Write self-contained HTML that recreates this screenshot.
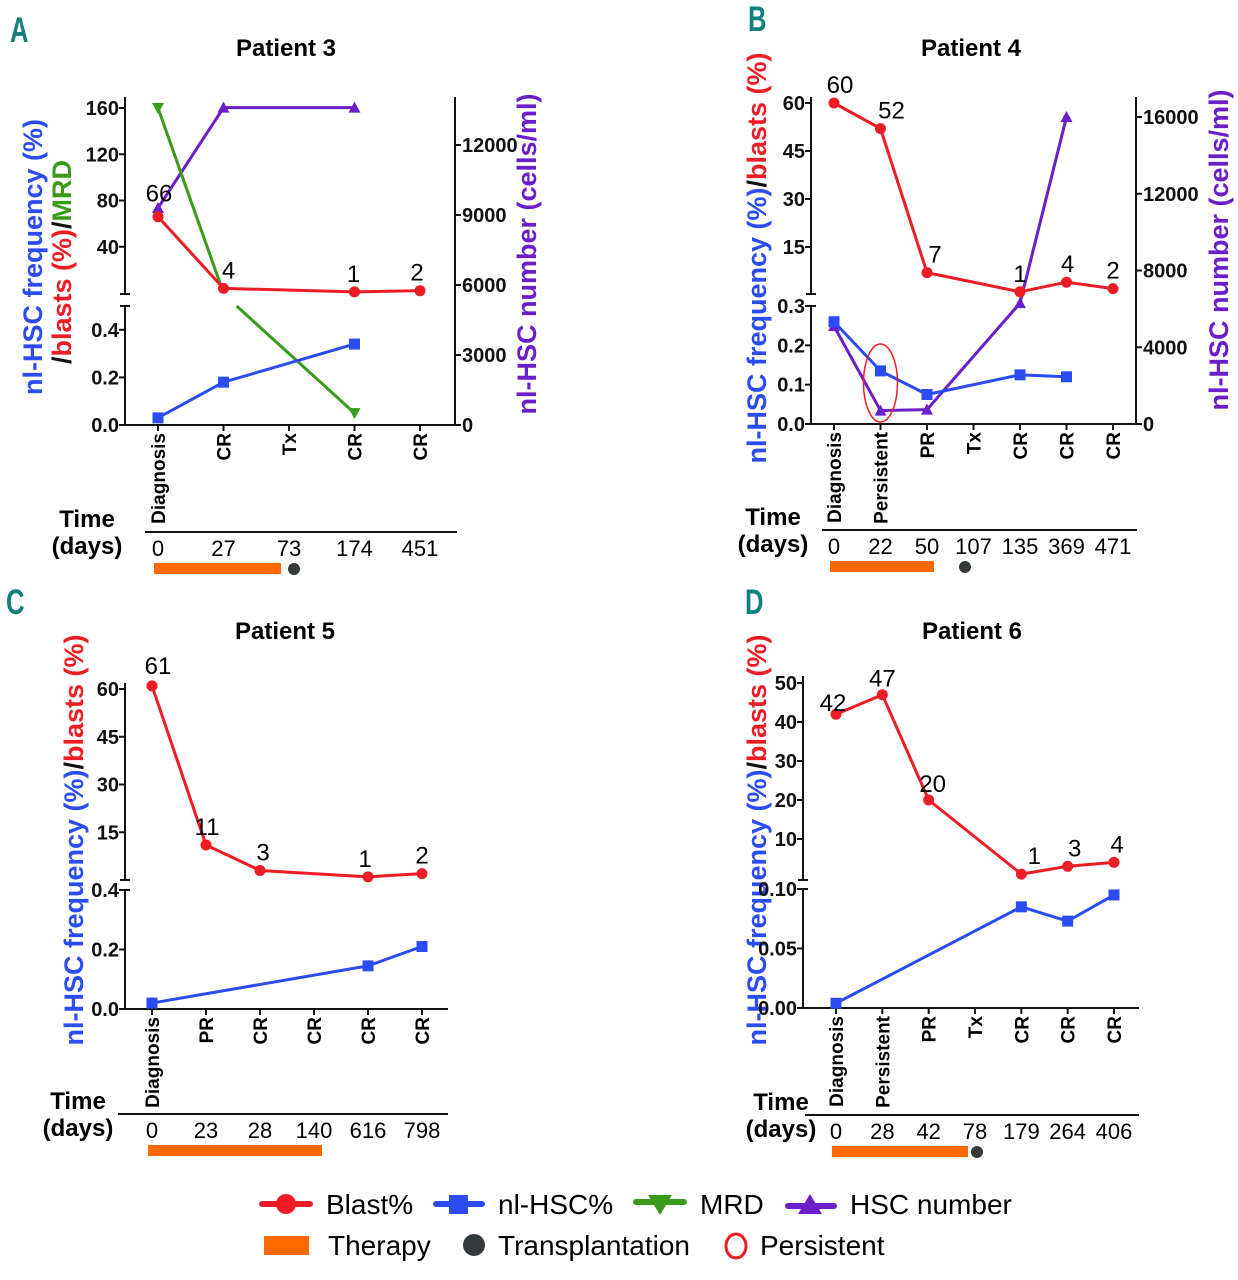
<!DOCTYPE html>
<html><head><meta charset="utf-8">
<style>
html,body{margin:0;padding:0;background:#fff;}
svg{display:block;font-family:"Liberation Sans",Arial,sans-serif;}
.tk{font-weight:bold;font-size:20px;}
.ttl{font-weight:bold;font-size:24px;}
.ax{font-weight:bold;font-size:27px;}
.num{font-size:24px;}
.day{font-size:22px;}
.cat{font-weight:bold;font-size:19px;}
.lg{font-size:28px;}
.let{font-size:32px;font-weight:bold;fill:#137f7a;}
</style></head>
<body>
<svg id="fig" width="1238" height="1280" viewBox="0 0 1238 1280" xmlns="http://www.w3.org/2000/svg">
<g id="static">
  <text class="let" transform="translate(10,42) scale(0.8,1.1)">A</text>
  <text class="let" transform="translate(748,31) scale(0.8,1.1)">B</text>
  <text class="let" transform="translate(6,614) scale(0.8,1.1)">C</text>
  <text class="let" transform="translate(745,614) scale(0.8,1.1)">D</text>

  <text class="ttl" x="286" y="56" text-anchor="middle">Patient 3</text>
  <text class="ttl" x="971" y="56" text-anchor="middle">Patient 4</text>
  <text class="ttl" x="285" y="639" text-anchor="middle">Patient 5</text>
  <text class="ttl" x="972" y="639" text-anchor="middle">Patient 6</text>

  <text class="ax" transform="translate(42,257) rotate(-90)" text-anchor="middle"><tspan fill="#2b4cf0">nl-HSC frequency (%)</tspan></text>
  <text class="ax" transform="translate(71,262) rotate(-90)" text-anchor="middle"><tspan fill="#111">/</tspan><tspan fill="#ee1c25">blasts (%)</tspan><tspan fill="#111">/</tspan><tspan fill="#3a9a1a">MRD</tspan></text>
  <text class="ax" transform="translate(536,254) rotate(-90)" text-anchor="middle" fill="#6a1fc8">nl-HSC number (cells/ml)</text>

  <text class="ax" transform="translate(766,258) rotate(-90)" text-anchor="middle"><tspan fill="#2b4cf0">nl-HSC frequency (%)</tspan><tspan fill="#111">/</tspan><tspan fill="#ee1c25">blasts (%)</tspan></text>
  <text class="ax" transform="translate(1228,250) rotate(-90)" text-anchor="middle" fill="#6a1fc8">nl-HSC number (cells/ml)</text>

  <text class="ax" transform="translate(83,840) rotate(-90)" text-anchor="middle"><tspan fill="#2b4cf0">nl-HSC frequency (%)</tspan><tspan fill="#111">/</tspan><tspan fill="#ee1c25">blasts (%)</tspan></text>
  <text class="ax" transform="translate(766,840) rotate(-90)" text-anchor="middle"><tspan fill="#2b4cf0">nl-HSC frequency (%)</tspan><tspan fill="#111">/</tspan><tspan fill="#ee1c25">blasts (%)</tspan></text>

  <g>
    <g>
      <line x1="262" y1="1204" x2="310" y2="1204" stroke="#ee1c25" stroke-width="6" stroke-linecap="round"/>
      <circle cx="286" cy="1204" r="10" fill="#ee1c25"/>
      <text class="lg" x="326" y="1214">Blast%</text>
    </g>
    <g>
      <line x1="436" y1="1204" x2="482" y2="1204" stroke="#2b4cf0" stroke-width="6" stroke-linecap="round"/>
      <rect x="449" y="1195" width="19" height="19" fill="#2b4cf0"/>
      <text class="lg" x="498" y="1214">nl-HSC%</text>
    </g>
    <g>
      <line x1="636" y1="1202" x2="684" y2="1202" stroke="#3a9a1a" stroke-width="6" stroke-linecap="round"/>
      <polygon points="648,1195 672,1195 660,1215" fill="#3a9a1a"/>
      <text class="lg" x="700" y="1214">MRD</text>
    </g>
    <g>
      <line x1="788" y1="1206" x2="834" y2="1206" stroke="#6a1fc8" stroke-width="6" stroke-linecap="round"/>
      <polygon points="798,1214 822,1214 810,1194" fill="#6a1fc8"/>
      <text class="lg" x="850" y="1214">HSC number</text>
    </g>
    <g>
      <rect x="264" y="1236" width="45" height="19" fill="#ff6a00"/>
      <text class="lg" x="328" y="1255">Therapy</text>
    </g>
    <g>
      <circle cx="474" cy="1245" r="11" fill="#333a3c"/>
      <text class="lg" x="498" y="1255">Transplantation</text>
    </g>
    <g>
      <ellipse cx="736" cy="1246" rx="10" ry="12" fill="none" stroke="#ee1c25" stroke-width="3"/>
      <text class="lg" x="760" y="1255">Persistent</text>
    </g>
  </g>
</g>
<g id="charts"></g>
</svg>
<script>
const catsA = ["Diagnosis","CR","Tx","CR","CR"];
const daysA = ["0","27","73","174","451"];
const blastA = [66,4,null,1,2];
const blastLabelsA = ["66","4",null,"1","2"];
const hscFreqA = [0.03,0.18,null,0.34,null];
const mrdA = [160,0.5,null,0.05,null];
const hscNumA = [9300,13600,null,13600,null];
const upperTicksA = [40,80,120,160];
const lowerTicksA = [0.0,0.2,0.4];
const rightTicksA = [0,3000,6000,9000,12000];
const catsB = ["Diagnosis","Persistent","PR","Tx","CR","CR","CR"];
const daysB = ["0","22","50","107","135","369","471"];
const blastB = [60,52,7,null,1,4,2];
const blastLabelsB = ["60","52","7",null,"1","4","2"];
const hscFreqB = [0.26,0.135,0.075,null,0.125,0.12,null];
const hscNumB = [5100,700,750,null,6300,16000,null];
const upperTicksB = [15,30,45,60];
const lowerTicksB = [0.0,0.1,0.2,0.3];
const rightTicksB = [0,4000,8000,12000,16000];
const catsC = ["Diagnosis","PR","CR","CR","CR","CR"];
const daysC = ["0","23","28","140","616","798"];
const blastC = [61,11,3,null,1,2];
const blastLabelsC = ["61","11","3",null,"1","2"];
const hscFreqC = [0.02,null,null,null,0.145,0.21];
const upperTicksC = [15,30,45,60];
const lowerTicksC = [0.0,0.2,0.4];
const catsD = ["Diagnosis","Persistent","PR","Tx","CR","CR","CR"];
const daysD = ["0","28","42","78","179","264","406"];
const blastD = [42,47,20,null,1,3,4];
const blastLabelsD = ["42","47","20",null,"1","3","4"];
const hscFreqD = [0.004,null,null,null,0.085,0.073,0.095];
const upperTicksD = [10,20,30,40,50];
const lowerTicksD = ["0.00","0.05","0.10"];

const RED="#ee1c25", BLUE="#2b4cf0", GREEN="#3a9a1a", PURPLE="#6a1fc8", ORANGE="#ff6a00";
const NS="http://www.w3.org/2000/svg";
const root=document.getElementById('charts');
function mk(tag,attrs,parent){const e=document.createElementNS(NS,tag);for(const k in attrs)e.setAttribute(k,attrs[k]);(parent||root).appendChild(e);return e;}

function panel(cfg){
  const g=mk('g',{});
  
  
  const n=cfg.cats.length;
  const xs=i=>cfg.x0+i*(cfg.x1-cfg.x0)/(n-1);
  const yU=v=>cfg.u0y+(cfg.u1y-cfg.u0y)*(v-cfg.uMin)/(cfg.uMax-cfg.uMin);
  const yL=v=>cfg.l0y+(cfg.l1y-cfg.l0y)*(v-cfg.lMin)/(cfg.lMax-cfg.lMin);
  const yR=cfg.right?(v=>cfg.r0y+(cfg.r1y-cfg.r0y)*v/cfg.rMax):null;
  const A=cfg.ax;
  const ax=mk('g',{stroke:'#111','stroke-width':2,fill:'none'},g);
  
  
  mk('line',{x1:A,y1:cfg.uTop,x2:A,y2:cfg.uBot},ax);
  mk('line',{x1:A-5,y1:cfg.uBot,x2:A+5,y2:cfg.uBot},ax);
  mk('line',{x1:A,y1:cfg.lTop,x2:A,y2:cfg.base},ax);
  mk('line',{x1:A-5,y1:cfg.lTop,x2:A+5,y2:cfg.lTop},ax);
  mk('line',{x1:A,y1:cfg.base,x2:cfg.axEnd,y2:cfg.base},ax);
  cfg.uTicks.forEach(t=>{const y=yU(+t);mk('line',{x1:A-6,y1:y,x2:A,y2:y},ax);
    const tx=mk('text',{x:A-6,y:y+7,'text-anchor':'end',class:'tk',stroke:'none',fill:'#111'},g);tx.textContent=t;
    });
  cfg.lTicks.forEach(t=>{const y=yL(+t);mk('line',{x1:A-6,y1:y,x2:A,y2:y},ax);
    const tx=mk('text',{x:A-6,y:y+7,'text-anchor':'end',class:'tk',stroke:'none',fill:'#111'},g);tx.textContent=(typeof t==='string')?t:t.toFixed(1);
    });
  if(cfg.right){
    const R=cfg.axEnd;
    mk('line',{x1:R,y1:cfg.uTop,x2:R,y2:cfg.base},ax);
    cfg.rTicks.forEach(t=>{const y=yR(t);mk('line',{x1:R,y1:y,x2:R+6,y2:y},ax);
      const tx=mk('text',{x:R+7,y:y+7,class:'tk',stroke:'none',fill:'#111'},g);tx.textContent=t;
      });
  }
  cfg.cats.forEach((c,i)=>{const x=xs(i);mk('line',{x1:x,y1:cfg.base,x2:x,y2:cfg.base+6,stroke:'#111','stroke-width':2},g);
    const t=mk('text',{transform:`translate(${x+7},${cfg.base+8}) rotate(-90)`,'text-anchor':'end',class:'cat'},g);t.textContent=c;
    });
  mk('line',{x1:cfg.tl0,y1:cfg.tly,x2:cfg.tl1,y2:cfg.tly,stroke:'#111','stroke-width':2},g);
  const tt=mk('text',{x:cfg.timeX,y:cfg.tly-5,'text-anchor':'middle',class:'ttl','font-size':'21'},g);tt.textContent='Time';
  
  const td=mk('text',{x:cfg.timeX,y:cfg.tly+22,'text-anchor':'middle',class:'ttl','font-size':'21'},g);td.textContent='(days)';
  
  cfg.days.forEach((d,i)=>{const t=mk('text',{x:xs(i),y:cfg.tly+24,'text-anchor':'middle',class:'day'},g);t.textContent=d;
    });
  const tb=mk('rect',{x:xs(0)-4,y:cfg.tly+31,width:cfg.therapyEnd-(xs(0)-4),height:11,fill:ORANGE},g);
  
  if(cfg.txDot){const d=mk('circle',{cx:cfg.txDot,cy:cfg.tly+37,r:6,fill:'#333a3c'},g);
    }
  function series(vals,yf,color,marker,name){
    const pts=[];vals.forEach((v,i)=>{if(v!==null)pts.push([xs(i),yf(v)]);});
    const sg=mk('g',{},g);
    
    
    mk('polyline',{points:pts.map(p=>p.join(',')).join(' '),fill:'none',stroke:color,'stroke-width':3,'stroke-linejoin':'round'},sg);
    pts.forEach(p=>{
      let m;
      if(marker==='circle')m=mk('circle',{cx:p[0],cy:p[1],r:5.5,fill:color},sg);
      else if(marker==='square')m=mk('rect',{x:p[0]-5.5,y:p[1]-5.5,width:11,height:11,fill:color},sg);
      else if(marker==='up')m=mk('polygon',{points:`${p[0]-6},${p[1]+5} ${p[0]+6},${p[1]+5} ${p[0]},${p[1]-6}`,fill:color},sg);
      else m=mk('polygon',{points:`${p[0]-6},${p[1]-5} ${p[0]+6},${p[1]-5} ${p[0]},${p[1]+6}`,fill:color},sg);
      
      
    });
  }
  if(cfg.hscNum) series(cfg.hscNum,yR,PURPLE,'up','hsc-number-line');
  if(cfg.mrd){
    const sg=mk('g',{},g);
    
    
    const p0=[xs(0),yU(cfg.mrd[0])], p1=[xs(1),yU(0)];
    mk('line',{x1:p0[0],y1:p0[1],x2:p1[0],y2:p1[1],stroke:GREEN,'stroke-width':3},sg);
    const p3=[xs(3),yL(cfg.mrd[3])];
    const sx=xs(1)+(xs(2)-xs(1))*0.2;
    mk('line',{x1:sx,y1:yL(cfg.mrd[1]),x2:p3[0],y2:p3[1],stroke:GREEN,'stroke-width':3},sg);
    [p0,p3].forEach(p=>{const m=mk('polygon',{points:`${p[0]-6},${p[1]-5} ${p[0]+6},${p[1]-5} ${p[0]},${p[1]+6}`,fill:GREEN},sg);
      });
  }
  series(cfg.freq,yL,BLUE,'square','nl-hsc-frequency-line');
  series(cfg.blast,yU,RED,'circle','blast-line');
  cfg.blastLabels.forEach((l,i)=>{if(l===null)return;
    const off=(cfg.labelOff&&cfg.labelOff[i])||[4,-10];
    const t=mk('text',{x:xs(i)+off[0],y:yU(cfg.blast[i])+off[1],'text-anchor':'middle',class:'num'},g);t.textContent=l;
    });
  if(cfg.persist!==undefined){const e=mk('ellipse',{cx:xs(cfg.persist),cy:383,rx:17,ry:39,fill:'none',stroke:RED,'stroke-width':1.5},g);
    }
}

panel({name:'panel-a-patient-3',cats:catsA,days:daysA,blast:blastA,blastLabels:blastLabelsA,freq:hscFreqA,mrd:mrdA,hscNum:hscNumA,
  ax:125,axEnd:455,x0:158,x1:420,uTop:97,uBot:294,u0y:293,u1y:108,uMin:0,uMax:160,uTicks:upperTicksA,
  lTop:306,l0y:425,l1y:306,lMin:0,lMax:0.5,lTicks:lowerTicksA,base:425,
  right:true,r0y:425,r1y:355,rMax:3000,rTicks:rightTicksA,
  tl0:145,tl1:457,tly:532,timeX:87,therapyEnd:281,txDot:294,labelOff:[[1,-15],[5,-10],null,[-1,-10],[-3,-10]]});
panel({name:'panel-b-patient-4',cats:catsB,days:daysB,blast:blastB,blastLabels:blastLabelsB,freq:hscFreqB,hscNum:hscNumB,
  ax:811,axEnd:1136,x0:834,x1:1113,uTop:97,uBot:294,u0y:295,u1y:103,uMin:0,uMax:60,uTicks:upperTicksB,
  lTop:306,l0y:424,l1y:306,lMin:0,lMax:0.3,lTicks:lowerTicksB,base:424,
  right:true,r0y:424,r1y:117,rMax:16000,rTicks:rightTicksB,
  tl0:822,tl1:1137,tly:530,timeX:773,therapyEnd:934,txDot:965,persist:1,labelOff:[[6,-10],[11,-10],[8,-10],null,[0,-10],[1,-10],[0,-10]]});
panel({name:'panel-c-patient-5',cats:catsC,days:daysC,blast:blastC,blastLabels:blastLabelsC,freq:hscFreqC,
  ax:125,axEnd:448,x0:152,x1:422,uTop:683,uBot:880,u0y:880,u1y:689,uMin:0,uMax:60,uTicks:upperTicksC,
  lTop:890,l0y:1009,l1y:890,lMin:0,lMax:0.4,lTicks:lowerTicksC,base:1009,
  tl0:118,tl1:448,tly:1114,timeX:78,therapyEnd:322,labelOff:[[6,-12],[1,-10],[3,-10],null,[-3,-10],[0,-10]]});
panel({name:'panel-d-patient-6',cats:catsD,days:daysD,blast:blastD,blastLabels:blastLabelsD,freq:hscFreqD,
  ax:803,axEnd:1139,x0:836,x1:1114,uTop:676,uBot:880,u0y:878,u1y:683,uMin:0,uMax:50,uTicks:upperTicksD,
  lTop:889,l0y:1008,l1y:889,lMin:0,lMax:0.1,lTicks:lowerTicksD,base:1008,
  tl0:805,tl1:1139,tly:1115,timeX:781,therapyEnd:968,txDot:977,labelOff:[[-3,-3],[0,-8],[4,-8],null,[13,-10],[7,-10],[3,-10]]});
</script>
</body></html>
